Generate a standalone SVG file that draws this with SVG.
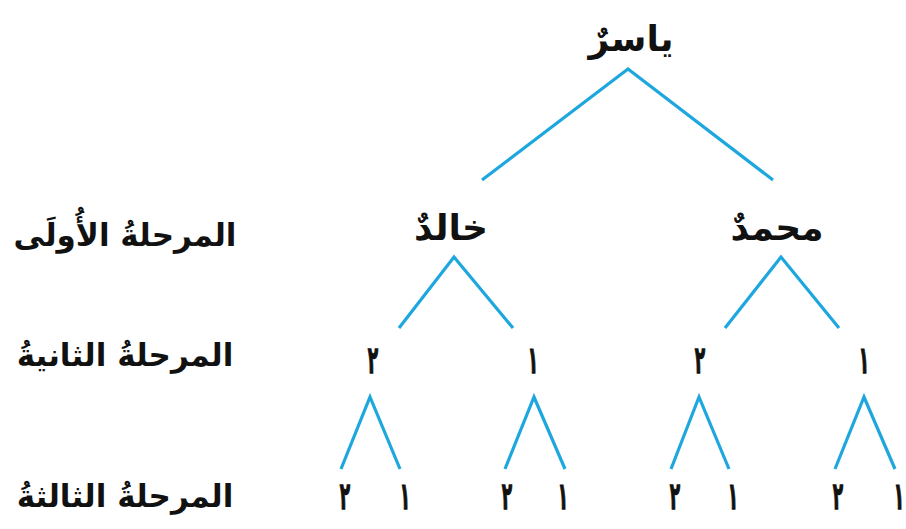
<svg xmlns="http://www.w3.org/2000/svg" width="906" height="529" viewBox="0 0 906 529">
<style>
.t{font-family:"DejaVu Sans",sans-serif;font-weight:bold;fill:#111;text-anchor:middle}
.name{font-size:36px}
.row{font-size:31px}
.num{font-size:25px;stroke:#111;stroke-width:0.9}
.c{fill:none;stroke:#1ea7de;stroke-width:3.2;stroke-linejoin:miter;stroke-linecap:butt}
</style>
<rect width="906" height="529" fill="#fff"/>
<g id="connectors">
<polyline class="c" points="482,180 628,69 773,180"/>
<polyline class="c" points="399,328 454,257 513,328"/>
<polyline class="c" points="725,328 781,257 839,328"/>
<polyline class="c" points="341,469 370,397 400,469"/>
<polyline class="c" points="505,469 534,397 565,469"/>
<polyline class="c" points="671,469 699,397 729,469"/>
<polyline class="c" points="835,469 864,397 895,469"/>
</g>
<g id="row1"><text class="t row" x="125" y="246">المرحلةُ الأُولَى</text></g>
<g id="row2"><text class="t row" x="125" y="366">المرحلةُ الثانيةُ</text></g>
<g id="row3"><text class="t row" x="125" y="507">المرحلةُ الثالثةُ</text></g>
<g id="yasser"><text class="t name" x="631" y="51">ياسرٌ</text></g>
<g id="khaled"><text class="t name" x="451" y="240">خالدٌ</text></g>
<g id="mohammad"><text class="t name" x="777" y="240">محمدٌ</text></g>
<g id="k2" transform="translate(373,373) scale(0.68,1.5)"><text class="t num">٢</text></g>
<g id="k1" transform="translate(533,373) scale(0.68,1.5)"><text class="t num">١</text></g>
<g id="m2" transform="translate(700,373) scale(0.68,1.5)"><text class="t num">٢</text></g>
<g id="m1" transform="translate(864,373) scale(0.68,1.5)"><text class="t num">١</text></g>
<g id="l1" transform="translate(345,509) scale(0.68,1.5)"><text class="t num">٢</text></g>
<g id="l2" transform="translate(405,509) scale(0.68,1.5)"><text class="t num">١</text></g>
<g id="l3" transform="translate(507,509) scale(0.68,1.5)"><text class="t num">٢</text></g>
<g id="l4" transform="translate(563,509) scale(0.68,1.5)"><text class="t num">١</text></g>
<g id="l5" transform="translate(675,509) scale(0.68,1.5)"><text class="t num">٢</text></g>
<g id="l6" transform="translate(733,509) scale(0.68,1.5)"><text class="t num">١</text></g>
<g id="l7" transform="translate(838,509) scale(0.68,1.5)"><text class="t num">٢</text></g>
<g id="l8" transform="translate(899,509) scale(0.68,1.5)"><text class="t num">١</text></g>
</svg>
